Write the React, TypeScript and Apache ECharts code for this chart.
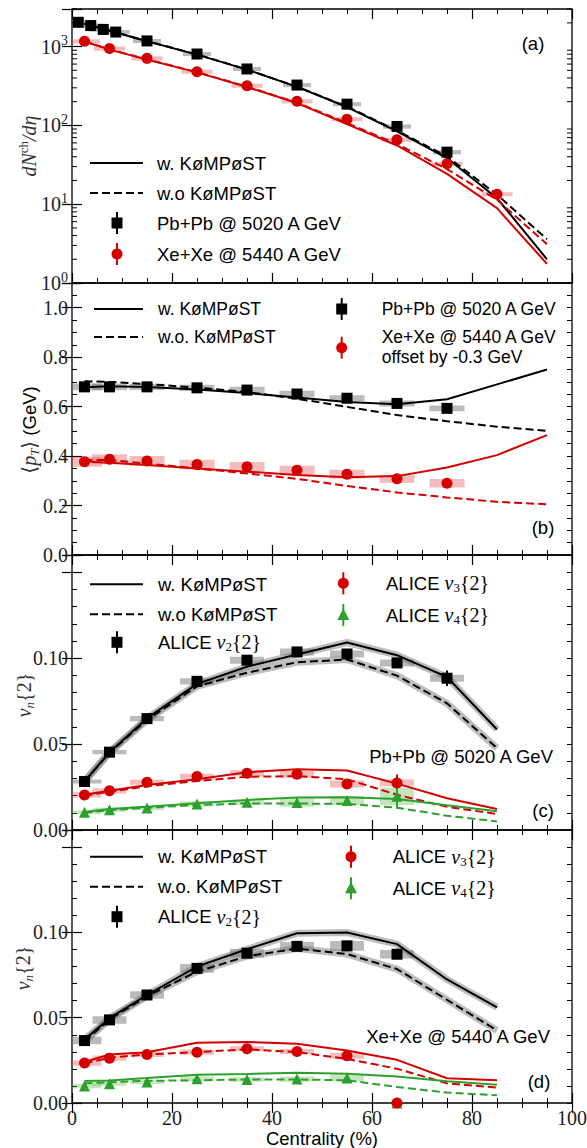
import React, { useEffect, useRef } from 'react';
import * as echarts from 'echarts';

const SERIF = '"Liberation Serif", "DejaVu Serif", serif';
const SANS = '"Liberation Sans", "DejaVu Sans", sans-serif';
const BLACK = '#000000';
const RED = '#d40000';
const GREEN = '#2ca02c';
const GRAY_BOX = 'rgba(120,120,120,0.5)';
const RED_BOX = 'rgba(225,80,80,0.38)';
const GREEN_BOX = 'rgba(70,175,50,0.32)';
const BAND = 'rgba(110,110,110,0.45)';
const SANS_SIZE = 18.5;
const SANS_SIZE_B = 17.5;

// ---------- Panel (a): dN/deta ----------
const pbCentA = [1.25, 3.75, 6.25, 8.75, 15, 25, 35, 45, 55, 65, 75];
const pbDndeta = [2035, 1850, 1650, 1530, 1180, 805, 520, 325, 186, 97, 45.8];
const pbDndetaSys = [120, 110, 100, 90, 70, 48, 31, 20, 11, 6, 2.8];
const xeCentA = [2.5, 7.5, 15, 25, 35, 45, 55, 65, 75, 85];
const xeDndeta = [1167, 944, 709, 481, 319, 202, 120, 65.8, 32.6, 13.4];
const xeDndetaSys = [70, 57, 43, 29, 19, 12, 7.2, 4, 2, 0.8];
const modelCentA = [2.5, 7.5, 15, 25, 35, 45, 55, 65, 75, 85, 95];
const pbSolidA = [1945, 1590, 1167, 791, 510, 308, 171, 84, 38.5, 11.9, 2.0];
const pbDashA = [1960, 1600, 1175, 795, 512, 310, 173, 86, 40.4, 13.2, 3.6];
const xeSolidA = [1160, 916, 684, 471, 307, 192, 104, 55.6, 24.3, 8.9, 1.75];
const xeDashA = [1170, 925, 690, 475, 310, 195, 107, 58, 27.9, 11.4, 3.1];
const logMinorTicks = [2, 3, 4, 5, 6, 7, 8, 9, 20, 30, 40, 50, 60, 70, 80, 90, 200, 300, 400, 500, 600, 700, 800, 900, 2000, 3000];

// ---------- Panel (b): <pT> ----------
const ptCent = [2.5, 7.5, 15, 25, 35, 45, 55, 65, 75];
const pbPt = [0.68, 0.68, 0.68, 0.676, 0.667, 0.651, 0.634, 0.613, 0.593];
const pbPtSys = [0.014, 0.014, 0.013, 0.013, 0.013, 0.013, 0.012, 0.012, 0.012];
const xePt = [0.377, 0.387, 0.38, 0.366, 0.357, 0.343, 0.327, 0.308, 0.29];
const xePtSys = [0.02, 0.02, 0.02, 0.019, 0.019, 0.018, 0.018, 0.017, 0.017];
const modelCentB = [2.5, 7.5, 15, 25, 35, 45, 55, 65, 75, 85, 95];
const pbSolidB = [0.678, 0.682, 0.679, 0.669, 0.655, 0.637, 0.619, 0.61, 0.63, 0.69, 0.75];
const pbDashB = [0.703, 0.7, 0.691, 0.677, 0.659, 0.632, 0.599, 0.566, 0.541, 0.519, 0.502];
const xeSolidB = [0.378, 0.373, 0.364, 0.35, 0.337, 0.324, 0.314, 0.319, 0.354, 0.404, 0.485];
const xeDashB = [0.384, 0.384, 0.37, 0.35, 0.33, 0.308, 0.279, 0.253, 0.233, 0.215, 0.205];

// ---------- Panel (c): Pb+Pb vn{2} ----------
const vnCent = [2.5, 7.5, 15, 25, 35, 45, 55, 65, 75];
const pbV2 = [0.0282, 0.0453, 0.0648, 0.0865, 0.0988, 0.1036, 0.1024, 0.0972, 0.0883];
const pbV2Stat = [0, 0, 0, 0, 0, 0, 0.001, 0.001, 0.0045];
const pbV2Sys = [0.0012, 0.0012, 0.0015, 0.0018, 0.002, 0.002, 0.002, 0.002, 0.002];
const pbV3 = [0.0204, 0.0228, 0.0278, 0.0311, 0.033, 0.0324, 0.0268, 0.0274];
const pbV3Stat = [0, 0, 0, 0, 0, 0.0006, 0.0012, 0.0049];
const pbV3Sys = [0.0015, 0.0015, 0.0015, 0.0017, 0.0017, 0.002, 0.002, 0.002];
const pbV4 = [0.0103, 0.0118, 0.0128, 0.0152, 0.0161, 0.016, 0.0171, 0.0196];
const pbV4Stat = [0, 0, 0, 0, 0, 0.0008, 0.0018, 0.0065];
const pbV4Sys = [0.0012, 0.0012, 0.0012, 0.0015, 0.0015, 0.0025, 0.0025, 0.005];
const modelCentV = [2.5, 7.5, 15, 25, 35, 45, 55, 65, 75, 85];
const pbV2Solid = [0.0282, 0.0453, 0.065, 0.085, 0.095, 0.1021, 0.1091, 0.1017, 0.089, 0.0585];
const pbV2Dash = [0.0282, 0.045, 0.064, 0.0836, 0.0915, 0.0976, 0.0992, 0.0898, 0.0737, 0.0476];
const pbV3Solid = [0.0205, 0.0228, 0.0262, 0.0295, 0.0336, 0.0354, 0.0346, 0.027, 0.0185, 0.0122];
const pbV3Dash = [0.02, 0.0222, 0.0255, 0.0285, 0.031, 0.0313, 0.0295, 0.0205, 0.0135, 0.0093];
const pbV4Solid = [0.0105, 0.0122, 0.0135, 0.0155, 0.0175, 0.0189, 0.0191, 0.018, 0.0144, 0.0109];
const pbV4Dash = [0.01, 0.0115, 0.013, 0.0145, 0.0155, 0.0154, 0.0152, 0.013, 0.0083, 0.005];

// ---------- Panel (d): Xe+Xe vn{2} ----------
const xeVnCent = [2.5, 7.5, 15, 25, 35, 45, 55, 65];
const xeV2 = [0.0366, 0.0487, 0.0633, 0.0789, 0.0878, 0.0918, 0.0921, 0.0872];
const xeV2Sys = [0.0022, 0.0022, 0.0022, 0.0025, 0.0025, 0.0025, 0.0028, 0.0025];
const xeV3 = [0.0234, 0.0263, 0.0284, 0.0298, 0.0318, 0.0302, 0.0277, 0.0];
const xeV3Sys = [0.0015, 0.0015, 0.0015, 0.0015, 0.0015, 0.0015, 0.0018, 0];
const xeV4 = [0.0099, 0.0113, 0.0123, 0.0142, 0.0138, 0.014, 0.0147, 0.0];
const xeV4Sys = [0.0012, 0.0012, 0.0012, 0.0013, 0.0013, 0.0015, 0.002, 0];
const xeV2Solid = [0.0372, 0.0497, 0.0633, 0.08, 0.0901, 0.0995, 0.0999, 0.0931, 0.0724, 0.0561];
const xeV2Dash = [0.036, 0.049, 0.0625, 0.077, 0.086, 0.0905, 0.0873, 0.0785, 0.0605, 0.0425];
const xeV3Solid = [0.024, 0.0284, 0.0298, 0.0353, 0.0358, 0.0347, 0.0308, 0.0253, 0.0145, 0.0133];
const xeV3Dash = [0.0232, 0.0265, 0.0285, 0.0298, 0.0315, 0.0298, 0.0258, 0.0201, 0.0115, 0.009];
const xeV4Solid = [0.0129, 0.0132, 0.0146, 0.0166, 0.017, 0.0178, 0.0172, 0.0156, 0.0128, 0.0107];
const xeV4Dash = [0.0115, 0.0122, 0.013, 0.0133, 0.0138, 0.0138, 0.0133, 0.0094, 0.0061, 0.0045];

const xTickValues = [0, 20, 40, 60, 80, 100];

// ---------- helpers ----------
const pairs = (xs: number[], ys: number[]) => xs.map((x, i) => [x, ys[i]]);

function lineS(xi: number, yi: number, xs: number[], ys: number[], color: string, dashed: boolean, width = 2, z = 3) {
  return {
    type: 'line', xAxisIndex: xi, yAxisIndex: yi, data: pairs(xs, ys), showSymbol: false, symbol: 'none',
    silent: true, z, lineStyle: { color, width, type: dashed ? [8, 4] : 'solid' },
  };
}

function scatterS(xi: number, yi: number, xs: number[], ys: number[], symbol: string, color: string, size: number) {
  return {
    type: 'scatter', xAxisIndex: xi, yAxisIndex: yi, symbol, symbolSize: size, silent: true, z: 6,
    itemStyle: { color, opacity: 1 }, data: pairs(xs, ys),
  };
}

function boxS(xi: number, yi: number, xs: number[], ys: number[], sys: number[], color: string, hw = 3.3) {
  return {
    type: 'custom', xAxisIndex: xi, yAxisIndex: yi, z: 1, silent: true, clip: true,
    data: xs.map((x, i) => [x, ys[i], sys[i]]).filter((d) => d[2] > 0),
    encode: { x: 0, y: 1 },
    renderItem: (_p: any, api: any) => {
      const x = api.value(0), y = api.value(1), s = api.value(2);
      const p1 = api.coord([x - hw, y + s]);
      const p2 = api.coord([x + hw, y - s]);
      return { type: 'rect', shape: { x: p1[0], y: p1[1], width: p2[0] - p1[0], height: p2[1] - p1[1] }, style: { fill: color } };
    },
  };
}

function errS(xi: number, yi: number, xs: number[], ys: number[], errs: number[], color: string) {
  return {
    type: 'custom', xAxisIndex: xi, yAxisIndex: yi, z: 5, silent: true, clip: true,
    data: xs.map((x, i) => [x, ys[i], errs[i]]).filter((d) => d[2] > 0),
    encode: { x: 0, y: 1 },
    renderItem: (_p: any, api: any) => {
      const x = api.value(0), y = api.value(1), e = api.value(2);
      const p1 = api.coord([x, y + e]);
      const p2 = api.coord([x, y - e]);
      return { type: 'line', shape: { x1: p1[0], y1: p1[1], x2: p2[0], y2: p2[1] }, style: { stroke: color, lineWidth: 2 } };
    },
  };
}

const tickStyle = { color: '#000', width: 1.2 };

function xAxes(gridIndex: number, labels: boolean) {
  const base: any = {
    type: 'value', gridIndex, min: 0, max: 100, interval: 20,
    axisLine: { show: false }, splitLine: { show: false },
    axisTick: { show: true, inside: true, length: 10, lineStyle: tickStyle },
    minorTick: { show: true, splitNumber: 4, length: 5, lineStyle: { color: '#000', width: 1 } },
  };
  return [
    {
      ...base, position: 'bottom',
      axisLabel: labels
        ? { show: true, margin: 5, fontFamily: SERIF, fontSize: 20, color: '#222',
            formatter: (v: number) => (xTickValues.indexOf(v) >= 0 ? String(v) : '') }
        : { show: false },
    },
    { ...base, position: 'top', axisLabel: { show: false } },
  ];
}

function yLinear(gridIndex: number, max: number, major: number, minor: number, decimals: number) {
  const common: any = { type: 'value', gridIndex, min: 0, max, axisLine: { show: false }, splitLine: { show: false } };
  const majorTick = { show: true, inside: true, length: 10, lineStyle: tickStyle };
  const minorTickCfg = { show: true, inside: true, length: 5, lineStyle: { color: '#000', width: 1 } };
  return [
    {
      ...common, position: 'left', interval: major, axisTick: majorTick,
      axisLabel: {
        show: true, margin: 4, fontFamily: SERIF, fontSize: 20, color: '#222',
        formatter: (v: number) => (v > max - major / 2 + 1e-9 ? '' : v.toFixed(decimals)),
      },
    },
    { ...common, position: 'right', interval: major, axisTick: majorTick, axisLabel: { show: false } },
    { ...common, position: 'left', interval: minor, axisTick: minorTickCfg, axisLabel: { show: false } },
    { ...common, position: 'right', interval: minor, axisTick: minorTickCfg, axisLabel: { show: false } },
  ];
}

function yLog(position: string, labels: boolean) {
  return {
    type: 'log', gridIndex: 0, min: 1, max: 3000, logBase: 10, position,
    axisLine: { show: false }, splitLine: { show: false },
    axisTick: { show: true, inside: true, length: 10, lineStyle: tickStyle },
    minorTick: { show: false },
    axisLabel: labels
      ? {
          show: true, margin: 4, color: '#222',
          formatter: (v: number) => {
            const e = Math.round(Math.log10(v));
            if (Math.abs(Math.pow(10, e) - v) > 1e-6 * v) return '';
            return '{b|10}{s|' + e + '}';
          },
          rich: {
            b: { fontFamily: SERIF, fontSize: 20, lineHeight: 26, color: '#222' },
            s: { fontFamily: SERIF, fontSize: 14, lineHeight: 14, verticalAlign: 'top', color: '#222' },
          },
        }
      : { show: false },
  };
}

// ---------- graphic helpers ----------
const txt = (x: number, y: number, text: string, align = 'left', size = SANS_SIZE) => ({
  type: 'text', x, y, silent: true,
  style: { text, fontFamily: SANS, fontSize: size, fill: '#000', align, verticalAlign: 'middle', textAlign: align, textVerticalAlign: 'middle' },
});

const legLine = (x1: number, x2: number, y: number, dashed: boolean) => ({
  type: 'line', silent: true,
  shape: { x1, y1: y, x2, y2: y },
  style: { stroke: '#000', lineWidth: 2, lineDash: dashed ? [8, 4] : null },
});

const legMarker = (cx: number, cy: number, kind: string, color: string) => {
  const bar = { type: 'line', silent: true, shape: { x1: cx, y1: cy - 11, x2: cx, y2: cy + 11 }, style: { stroke: color, lineWidth: 2 } };
  let m: any;
  if (kind === 'square') m = { type: 'rect', silent: true, shape: { x: cx - 5.5, y: cy - 5.5, width: 11, height: 11 }, style: { fill: color } };
  else if (kind === 'circle') m = { type: 'circle', silent: true, shape: { cx, cy, r: 5.5 }, style: { fill: color } };
  else m = { type: 'polygon', silent: true, shape: { points: [[cx, cy - 6.5], [cx - 6, cy + 5], [cx + 6, cy + 5]] }, style: { fill: color } };
  return [bar, m];
};

const vLegend = (x: number, y: number, n: string) => ({
  type: 'text', x, y, silent: true,
  style: {
    text: '{s|ALICE }{i|v}{sub|' + n + '}{2}',
    fontFamily: SERIF, fontSize: 20, lineHeight: 22, fill: '#000',
    align: 'left', verticalAlign: 'middle', textAlign: 'left', textVerticalAlign: 'middle',
    rich: {
      s: { fontFamily: SANS, fontSize: SANS_SIZE, lineHeight: 22, fill: '#000' },
      i: { fontFamily: SERIF, fontStyle: 'italic', fontSize: 20, lineHeight: 22, fill: '#000' },
      sub: { fontFamily: SERIF, fontSize: 13, lineHeight: 12, verticalAlign: 'bottom', fill: '#000' },
    },
  },
});

const yTitle = (x: number, y: number, text: string) => ({
  type: 'text', x, y, rotation: Math.PI / 2, silent: true,
  style: {
    text, fontFamily: SERIF, fontSize: 20, lineHeight: 24, fill: '#333',
    align: 'center', verticalAlign: 'middle', textAlign: 'center', textVerticalAlign: 'middle',
    rich: {
      i: { fontFamily: SERIF, fontStyle: 'italic', fontSize: 20, lineHeight: 24, fill: '#333' },
      sup: { fontFamily: SERIF, fontSize: 13, lineHeight: 13, verticalAlign: 'top', fill: '#333' },
      sub: { fontFamily: SERIF, fontStyle: 'italic', fontSize: 13, lineHeight: 13, verticalAlign: 'bottom', fill: '#333' },
      s: { fontFamily: SANS, fontSize: SANS_SIZE, lineHeight: 24, fill: '#000' },
    },
  },
});

function buildOption() {
  const grids = [
    { left: 72, width: 500, top: 9, height: 274 },
    { left: 72, width: 500, top: 283, height: 272 },
    { left: 72, width: 500, top: 555, height: 275 },
    { left: 72, width: 500, top: 830, height: 273 },
  ].map((g) => ({ ...g, show: true, borderColor: '#000', borderWidth: 1.3, backgroundColor: 'transparent', containLabel: false, outerBoundsMode: 'none' }));

  const xAxis = [...xAxes(0, false), ...xAxes(1, false), ...xAxes(2, false), ...xAxes(3, true)];
  const yAxis = [
    yLog('left', true), yLog('right', false), // 0,1
    ...yLinear(1, 1.1, 0.2, 0.05, 1), // 2..5
    ...yLinear(2, 0.16, 0.05, 0.01, 2), // 6..9
    ...yLinear(3, 0.16, 0.05, 0.01, 2), // 10..13
  ];

  const series: any[] = [];
  // panel a
  series.push(boxS(0, 0, pbCentA, pbDndeta, pbDndetaSys, GRAY_BOX, 2.8));
  series.push(boxS(0, 0, xeCentA, xeDndeta, xeDndetaSys, RED_BOX, 3.1));
  series.push(lineS(0, 0, modelCentA, pbDashA, BLACK, true));
  series.push(lineS(0, 0, modelCentA, pbSolidA, BLACK, false));
  series.push(lineS(0, 0, modelCentA, xeDashA, RED, true));
  series.push(lineS(0, 0, modelCentA, xeSolidA, RED, false));
  series.push(scatterS(0, 0, pbCentA, pbDndeta, 'rect', BLACK, 11));
  series.push(scatterS(0, 0, xeCentA, xeDndeta, 'circle', RED, 11));
  series.push({
    type: 'custom', xAxisIndex: 0, yAxisIndex: 0, z: 2, silent: true,
    data: logMinorTicks.map((v) => [0, v]), encode: { x: 0, y: 1 },
    renderItem: (_p: any, api: any) => {
      const v = api.value(1);
      const pl = api.coord([0, v]);
      const pr = api.coord([100, v]);
      return {
        type: 'group', children: [
          { type: 'line', shape: { x1: pl[0], y1: pl[1], x2: pl[0] + 5, y2: pl[1] }, style: { stroke: '#000', lineWidth: 1 } },
          { type: 'line', shape: { x1: pr[0] - 5, y1: pr[1], x2: pr[0], y2: pr[1] }, style: { stroke: '#000', lineWidth: 1 } },
        ],
      };
    },
  });

  // panel b
  series.push(boxS(2, 2, ptCent, pbPt, pbPtSys, GRAY_BOX, 3.5));
  series.push(boxS(2, 2, ptCent, xePt, xePtSys, RED_BOX, 3.5));
  series.push(lineS(2, 2, modelCentB, pbDashB, BLACK, true));
  series.push(lineS(2, 2, modelCentB, pbSolidB, BLACK, false));
  series.push(lineS(2, 2, modelCentB, xeDashB, RED, true));
  series.push(lineS(2, 2, modelCentB, xeSolidB, RED, false));
  series.push(scatterS(2, 2, ptCent, pbPt, 'rect', BLACK, 11));
  series.push(scatterS(2, 2, ptCent, xePt, 'circle', RED, 11));

  // panel c
  const v3Cent = vnCent.slice(0, 8);
  series.push(boxS(4, 6, vnCent, pbV2, pbV2Sys, GRAY_BOX, 3.4));
  series.push(boxS(4, 6, v3Cent, pbV3, pbV3Sys, RED_BOX, 3.4));
  series.push(boxS(4, 6, v3Cent, pbV4, pbV4Sys, GREEN_BOX, 3.4));
  series.push(lineS(4, 6, modelCentV, pbV2Solid, BAND, false, 7, 2));
  series.push(lineS(4, 6, modelCentV, pbV2Dash, BAND, false, 7, 2));
  series.push(lineS(4, 6, modelCentV, pbV2Dash, BLACK, true));
  series.push(lineS(4, 6, modelCentV, pbV2Solid, BLACK, false));
  series.push(lineS(4, 6, modelCentV, pbV3Dash, RED, true));
  series.push(lineS(4, 6, modelCentV, pbV3Solid, RED, false));
  series.push(lineS(4, 6, modelCentV, pbV4Dash, GREEN, true));
  series.push(lineS(4, 6, modelCentV, pbV4Solid, GREEN, false));
  series.push(errS(4, 6, vnCent, pbV2, pbV2Stat, BLACK));
  series.push(errS(4, 6, v3Cent, pbV3, pbV3Stat, RED));
  series.push(errS(4, 6, v3Cent, pbV4, pbV4Stat, GREEN));
  series.push(scatterS(4, 6, vnCent, pbV2, 'rect', BLACK, 11));
  series.push(scatterS(4, 6, v3Cent, pbV3, 'circle', RED, 11));
  series.push(scatterS(4, 6, v3Cent, pbV4, 'triangle', GREEN, 11));

  // panel d
  series.push(boxS(6, 10, xeVnCent, xeV2, xeV2Sys, GRAY_BOX, 3.4));
  series.push(boxS(6, 10, xeVnCent, xeV3, xeV3Sys, RED_BOX, 3.4));
  series.push(boxS(6, 10, xeVnCent, xeV4, xeV4Sys, GREEN_BOX, 3.4));
  series.push(lineS(6, 10, modelCentV, xeV2Solid, BAND, false, 7, 2));
  series.push(lineS(6, 10, modelCentV, xeV2Dash, BAND, false, 7, 2));
  series.push(lineS(6, 10, modelCentV, xeV2Dash, BLACK, true));
  series.push(lineS(6, 10, modelCentV, xeV2Solid, BLACK, false));
  series.push(lineS(6, 10, modelCentV, xeV3Dash, RED, true));
  series.push(lineS(6, 10, modelCentV, xeV3Solid, RED, false));
  series.push(lineS(6, 10, modelCentV, xeV4Dash, GREEN, true));
  series.push(lineS(6, 10, modelCentV, xeV4Solid, GREEN, false));
  series.push(scatterS(6, 10, xeVnCent, xeV2, 'rect', BLACK, 11));
  series.push(scatterS(6, 10, xeVnCent, xeV4, 'triangle', GREEN, 11));
  series.push(scatterS(6, 10, xeVnCent, xeV3, 'circle', RED, 11));

  const elements: any[] = [
    // panel a legend
    legLine(90, 143, 163, false), txt(157, 163, 'w. KøMPøST'),
    legLine(90, 143, 193, true), txt(157, 193, 'w.o KøMPøST'),
    ...legMarker(117, 223, 'square', BLACK), txt(157, 223, 'Pb+Pb @ 5020 A GeV'),
    ...legMarker(117, 254, 'circle', RED), txt(157, 254, 'Xe+Xe @ 5440 A GeV'),
    txt(533, 43, '(a)', 'center'),
    // panel b legend
    legLine(94, 143, 309, false), txt(158, 309, 'w. KøMPøST', 'left', SANS_SIZE_B),
    legLine(94, 143, 337, true), txt(158, 337, 'w.o. KøMPøST', 'left', SANS_SIZE_B),
    ...legMarker(341.7, 309, 'square', BLACK), txt(381.7, 309, 'Pb+Pb @ 5020 A GeV', 'left', SANS_SIZE_B),
    ...legMarker(341.7, 347.7, 'circle', RED),
    txt(381.7, 337.3, 'Xe+Xe @ 5440 A GeV', 'left', SANS_SIZE_B),
    txt(381.7, 357.3, 'offset by -0.3 GeV', 'left', SANS_SIZE_B),
    txt(543, 527, '(b)', 'center'),
    // panel c legend
    legLine(90, 143, 584.3, false), txt(158, 584.3, 'w. KøMPøST'),
    legLine(90, 143, 614.3, true), txt(158, 614.3, 'w.o KøMPøST'),
    ...legMarker(117, 642.3, 'square', BLACK), vLegend(158, 642.3, '2'),
    ...legMarker(343.3, 583.3, 'circle', RED), vLegend(386, 583.3, '3'),
    ...legMarker(343.3, 615, 'triangle', GREEN), vLegend(386, 615, '4'),
    txt(553, 756, 'Pb+Pb @ 5020 A GeV', 'right'),
    txt(543, 810, '(c)', 'center'),
    // panel d legend
    legLine(90, 143, 856.7, false), txt(158, 856.7, 'w. KøMPøST'),
    legLine(90, 143, 886.7, true), txt(158, 886.7, 'w.o. KøMPøST'),
    ...legMarker(117, 916.7, 'square', BLACK), vLegend(158, 916.7, '2'),
    ...legMarker(351, 856.7, 'circle', RED), vLegend(392.7, 856.7, '3'),
    ...legMarker(351, 888.3, 'triangle', GREEN), vLegend(392.7, 888.3, '4'),
    txt(550, 1036.7, 'Xe+Xe @ 5440 A GeV', 'right'),
    txt(539, 1081, '(d)', 'center'),
    // axis titles
    yTitle(29, 146, '{i|dN}{sup|ch}{i|/dη}'),
    yTitle(29, 430, '⟨{i|p}{sub|T}⟩{s| (GeV)}'),
    yTitle(24, 695, '{i|v}{sub|n}{2}'),
    yTitle(23, 968, '{i|v}{sub|n}{2}'),
    txt(322, 1138, 'Centrality (%)', 'center'),
  ];

  return {
    animation: false,
    backgroundColor: '#ffffff',
    grid: grids,
    xAxis,
    yAxis,
    series,
    graphic: { elements },
  };
}

export default function App() {
  const ref = useRef<HTMLDivElement>(null);
  useEffect(() => {
    const chart = echarts.init(ref.current as HTMLDivElement, null, { renderer: 'svg' });
    chart.setOption(buildOption() as any);
    return () => chart.dispose();
  }, []);
  return (
    <div
      ref={ref}
      style={{ position: 'absolute', left: 0, top: 0, width: 587, height: 1148, background: '#fff' }}
    />
  );
}
